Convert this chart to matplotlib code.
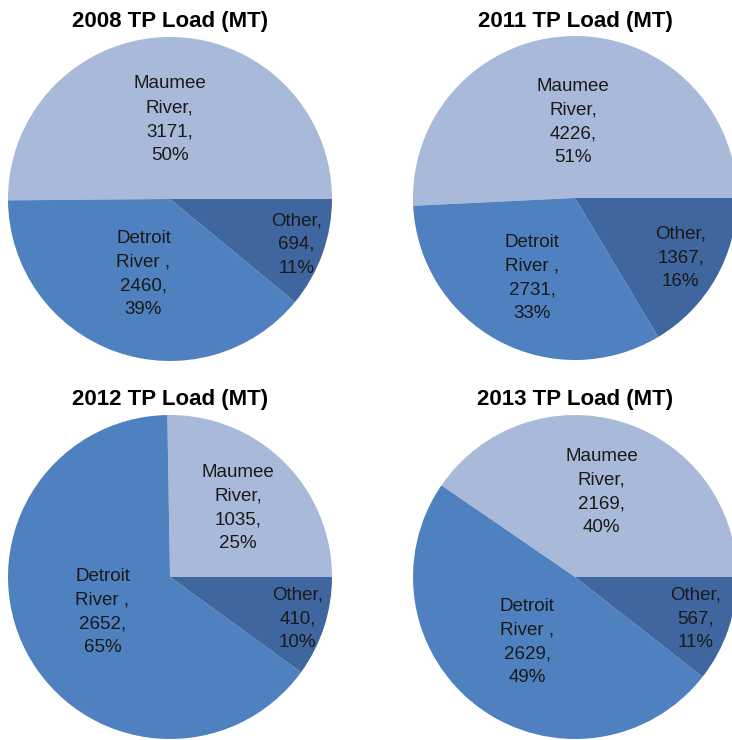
import numpy as np
import matplotlib.pyplot as plt

plt.rcParams['font.family'] = ['Liberation Sans', 'DejaVu Sans']

# TP loads (metric tons) by source
sources = ["Maumee\nRiver", "Detroit\nRiver ", "Other"]
years = ["2008", "2011", "2012", "2013"]
maumee = [3171, 4226, 1035, 2169]
detroit = [2460, 2731, 2652, 2629]
other = [694, 1367, 410, 567]

colors = ["#A9B9D9", "#4F80BF", "#3F669F"]
# label distance from centre (fraction of radius), per pie and slice
label_r = [[0.49, 0.49, 0.83],
           [0.47, 0.56, 0.75],
           [0.6, 0.47, 0.83],
           [0.55, 0.5, 0.79]]

# pie centres / radius in pixels (figure is 732 x 740)
W, H = 732, 740
centers = [(170, 199), (575, 198), (170, 577), (575, 577)]
R = 162
title_y = [21, 21, 399, 399]

fig = plt.figure(figsize=(W / 100, H / 100), dpi=100)
fig.patch.set_facecolor("white")

for i, yr in enumerate(years):
    vals = np.array([maumee[i], detroit[i], other[i]])
    cx, cy = centers[i]
    ax = fig.add_axes([(cx - R) / W, (H - cy - R) / H, 2 * R / W, 2 * R / H])
    wedges, _ = ax.pie(vals, colors=colors, startangle=0, counterclock=True,
                       wedgeprops=dict(linewidth=0))
    ax.set_xlim(-1, 1)
    ax.set_ylim(-1, 1)
    ax.set_aspect("equal")
    ax.axis("off")

    pct = vals / vals.sum() * 100
    for j, w in enumerate(wedges):
        ang = np.deg2rad((w.theta1 + w.theta2) / 2)
        r = label_r[i][j]
        txt = f"{sources[j]},\n{vals[j]},\n{pct[j]:.0f}%"
        ax.text(r * np.cos(ang), r * np.sin(ang), txt,
                ha="center", va="center", fontsize=13.5, color="#1a1a1a",
                linespacing=1.52)

    fig.text(cx / W, 1 - title_y[i] / H, f"{yr} TP Load (MT)", ha="center",
             va="center", fontsize=16, fontweight="bold", color="black")

fig.savefig("out.png", dpi=100, facecolor="white")
